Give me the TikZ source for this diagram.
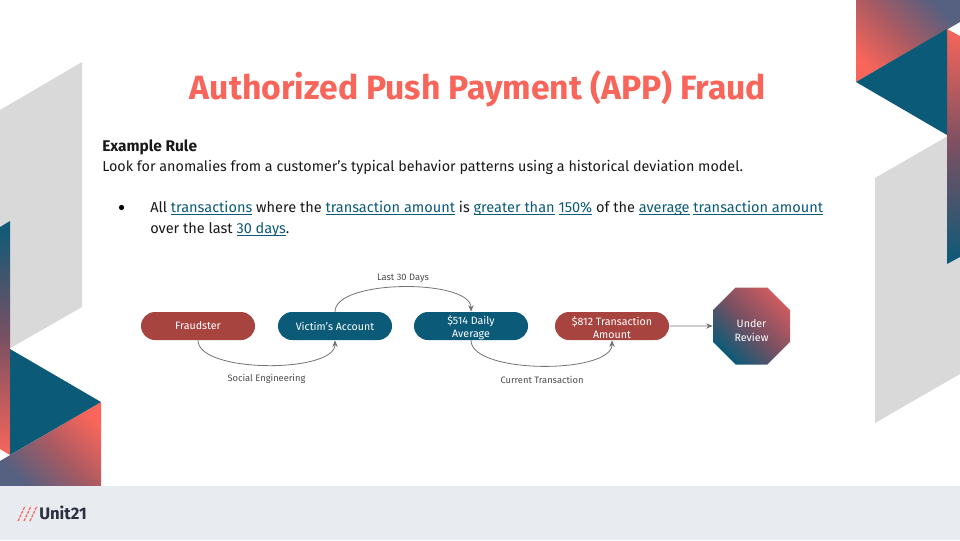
\documentclass[tikz,border=0pt]{standalone}
\usepackage{fontspec}
\setmainfont{Fira Sans}
\usetikzlibrary{calc,arrows.meta,shapes.geometric}

\definecolor{coral}{HTML}{F8655A}
\definecolor{brick}{HTML}{A8443F}
\definecolor{deepteal}{HTML}{0B5A78}
\definecolor{slate}{HTML}{566080}
\definecolor{wine}{HTML}{7A5062}
\definecolor{rosewine}{HTML}{A85A62}
\definecolor{dusty}{HTML}{CC5C60}
\definecolor{panel}{HTML}{D9D9D9}
\definecolor{footbar}{HTML}{E8EBF0}
\definecolor{inkdark}{HTML}{2B3040}
\definecolor{wire}{HTML}{737373}

% 1 unit = 1 pixel of the slide, y runs downwards
\tikzset{
  pill/.style={draw=none,text=white,minimum width=85.5pt,minimum height=21pt,
    rounded corners=10.5pt,inner sep=0pt,align=center,font=\fontsize{8}{9.8}\selectfont},
  edgelabel/.style={text=black!70,inner sep=0pt,font=\fontsize{7}{9}\selectfont},
  bodyline/.style={anchor=base west,inner sep=0pt,text=black!90,font=\fontsize{10.9}{14}\selectfont},
  wireline/.style={->,draw=wire,line width=0.6pt},
}
\newsavebox{\lnkbox}
\newcommand{\Lnk}[1]{\sbox{\lnkbox}{#1}\textcolor{deepteal}{\rlap{\rule[-2.2pt]{\wd\lnkbox}{0.5pt}}#1}}

\begin{document}
\begin{tikzpicture}[x=0.75pt,y=-0.75pt,>={Stealth[length=5pt,width=4pt]}]
\useasboundingbox (0,0) rectangle (960,540);

% ----- right decoration -----
\fill[panel] (875,178) -- (960,129) -- (960,374) -- (875,423) -- cycle;
\shade[left color=coral,right color=slate,middle color=rosewine,shading angle=135]
  (856,0) -- (960,0) -- (960,22) -- (856,82) -- cycle;
\shade[top color=coral,bottom color=deepteal,middle color=wine]
  (947,29) -- (960,36) -- (960,257) -- (947,264) -- cycle;
\fill[deepteal] (856,82) -- (947,29) -- (947,135) -- cycle;

% ----- left decoration -----
\fill[panel] (0,110) -- (82,62) -- (82,307) -- (0,354) -- cycle;
\shade[top color=deepteal,bottom color=coral,middle color=wine]
  (0,227) -- (10,221) -- (10,455) -- (0,449) -- cycle;
\shade[left color=slate,right color=coral,middle color=rosewine,shading angle=135]
  (101,402) -- (101,486) -- (0,486) -- (0,461) -- cycle;
\fill[deepteal] (10,349) -- (101,402) -- (10,455) -- cycle;

% ----- footer -----
\fill[footbar] (0,486) rectangle (960,540);
\foreach \k in {0,1,2} {
  \draw[coral,line width=0.9pt,dash pattern=on 2.2pt off 0.9pt]
    ({18+\k*6},521) -- ({25+\k*6},506);
}
\node[anchor=base west,inner sep=0pt,text=inkdark,font=\fontsize{12.5}{14}\bfseries\selectfont] (brand) at (39,519) {Unit21};

% ----- title and text -----
\node[anchor=base,inner sep=0pt,text=coral,font=\fontsize{25.3}{28}\bfseries\selectfont] (title) at (478,99) {Authorized Push Payment (APP) Fraud};
\node[bodyline,font=\fontsize{11.6}{14}\bfseries\selectfont] (rulehead) at (102,151) {Example Rule};
\node[bodyline,font=\fontsize{10.77}{14}\selectfont] (rulebody) at (102,171) {Look for anomalies from a customer’s typical behavior patterns using a historical deviation model.};
\node[inner sep=0pt,minimum size=3.9pt,circle,fill=black] (bulletdot) at (121.5,207.5) {};
\node[bodyline] (lineone) at (150,212) {All \Lnk{transactions} where the \Lnk{transaction amount} is \Lnk{greater than} \Lnk{150\%} of the \Lnk{average} \Lnk{transaction amount}};
\node[bodyline] (linetwo) at (150,233) {over the last \Lnk{30 days}.};

% ----- flow -----
\node[pill,fill=brick] (fraudster) at (198,326) {Fraudster};
\node[pill,fill=deepteal] (victim) at (335,326) {Victim’s Account};
\node[pill,fill=deepteal] (daily) at (471,326) {\rule{0pt}{9pt}\$514 Daily\\Average};
\node[pill,fill=brick] (amount) at (612,326) {\rule{0pt}{9pt}\$812 Transaction\\Amount};
\node[regular polygon,regular polygon sides=8,minimum size=62.5pt,inner sep=0pt,
  left color=deepteal,right color=dusty,middle color=wine,shading angle=135,
  text=white,align=center,font=\fontsize{8}{10.5}\selectfont] (review) at (751.5,326) {\rule{0pt}{13.5pt}Under\\Review};

\draw[wireline] (fraudster.south) to[out=-90,in=-90,looseness=0.62] (victim.south);
\draw[wireline] (victim.north) to[out=90,in=90,looseness=0.62] (daily.north);
\draw[wireline] (daily.south) to[out=-90,in=-90,looseness=0.62] (amount.south);
\draw[wireline] (amount.east) -- (review.west);

\node[edgelabel] (lblsocial) at (266.5,378.5) {Social Engineering};
\node[edgelabel] (lbllast) at (403,278.5) {Last 30 Days};
\node[edgelabel] (lblcurrent) at (542,380) {Current Transaction};

\end{tikzpicture}
\end{document}
